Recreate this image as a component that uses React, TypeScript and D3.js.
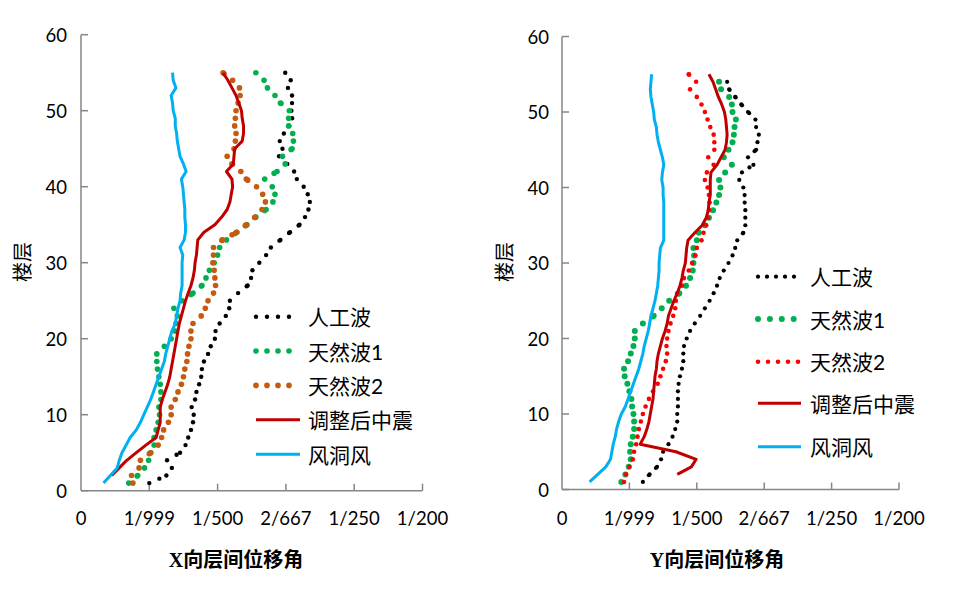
import React from 'react';
import * as d3 from 'd3';

// ---------- data ----------
const floors = [
  1, 2, 3, 4, 5, 6, 7, 8, 9, 10, 11, 12, 13, 14, 15, 16, 17, 18, 19, 20,
  21, 22, 23, 24, 25, 26, 27, 28, 29, 30, 31, 32, 33, 34, 35, 36, 37, 38, 39, 40,
  41, 42, 43, 44, 45, 46, 47, 48, 49, 50, 51, 52, 53, 54, 55,
];
const xTickValues = [0, 1, 2, 3, 4, 5];
const xTickLabels = ['0', '1/999', '1/500', '2/667', '1/250', '1/200'];
const yTickValues = [0, 10, 20, 30, 40, 50, 60];
const seriesNames = ['人工波', '天然波1', '天然波2', '调整后中震', '风洞风'];
const xTitle = 'X向层间位移角';
const yTitle = 'Y向层间位移角';
const floorLabel = '楼层';

// X direction (values in 1/1000)
const xArtificial = [
  1.00, 1.25, 1.33, 1.26, 1.45, 1.53, 1.57, 1.61, 1.64, 1.65,
  1.62, 1.67, 1.69, 1.73, 1.76, 1.77, 1.80, 1.86, 1.90, 1.96,
  1.97, 2.03, 2.12, 2.17, 2.18, 2.30, 2.44, 2.49, 2.51, 2.61,
  2.71, 2.78, 2.92, 3.06, 3.20, 3.28, 3.33, 3.35, 3.32, 3.26,
  3.16, 3.12, 3.02, 2.90, 2.95, 2.91, 2.97, 3.05, 3.09, 3.08,
  3.09, 3.09, 3.03, 3.07, 2.99,
];
const xNatural1 = [
  0.70, 0.83, 0.93, 0.99, 1.02, 1.07, 1.07, 1.10, 1.13, 1.15,
  1.14, 1.17, 1.17, 1.16, 1.14, 1.12, 1.11, 1.11, 1.22, 1.32,
  1.38, 1.39, 1.41, 1.36, 1.48, 1.64, 1.77, 1.83, 1.88, 1.95,
  2.00, 2.03, 2.13, 2.28, 2.43, 2.56, 2.71, 2.81, 2.84, 2.80,
  2.69, 2.87, 2.99, 2.95, 3.09, 3.11, 3.10, 3.04, 3.04, 3.05,
  2.92, 2.84, 2.73, 2.68, 2.56,
];
const xNatural2 = [
  0.76, 0.74, 0.85, 0.87, 1.02, 1.13, 1.18, 1.21, 1.28, 1.32,
  1.32, 1.38, 1.42, 1.47, 1.50, 1.52, 1.55, 1.56, 1.58, 1.61,
  1.61, 1.64, 1.76, 1.82, 1.86, 1.94, 1.97, 1.96, 1.95, 1.93,
  1.94, 1.94, 2.07, 2.28, 2.42, 2.55, 2.65, 2.70, 2.66, 2.57,
  2.42, 2.34, 2.21, 2.14, 2.24, 2.26, 2.27, 2.25, 2.26, 2.27,
  2.30, 2.33, 2.32, 2.22, 2.08,
];
const xAdjusted = [
  null, 0.45, 0.56, 0.67, 0.81, 0.95, 1.10, 1.13, 1.16, 1.16,
  1.16, 1.19, 1.23, 1.27, 1.30, 1.32, 1.34, 1.36, 1.38, 1.40,
  1.42, 1.44, 1.47, 1.50, 1.53, 1.57, 1.61, 1.64, 1.66, 1.67,
  1.69, 1.70, 1.71, 1.80, 1.96, 2.06, 2.14, 2.18, 2.20, 2.22,
  2.21, 2.13, 2.23, 2.24, 2.25, 2.36, 2.38, 2.38, 2.36, 2.35,
  2.31, 2.27, 2.21, 2.15, 2.08,
];
const xWind = [
  0.33, 0.43, 0.53, 0.56, 0.60, 0.66, 0.72, 0.81, 0.87, 0.92,
  0.97, 1.02, 1.06, 1.10, 1.14, 1.18, 1.22, 1.24, 1.27, 1.30,
  1.33, 1.38, 1.40, 1.42, 1.45, 1.46, 1.48, 1.48, 1.48, 1.48,
  1.49, 1.45, 1.51, 1.53, 1.53, 1.52, 1.52, 1.51, 1.50, 1.49,
  1.47, 1.54, 1.50, 1.45, 1.43, 1.41, 1.40, 1.38, 1.38, 1.35,
  1.34, 1.32, 1.39, 1.35, 1.34,
];

// Y direction
const yArtificial = [
  1.20, 1.30, 1.41, 1.47, 1.50, 1.58, 1.64, 1.68, 1.71, 1.71,
  1.72, 1.72, 1.72, 1.73, 1.75, 1.78, 1.80, 1.80, 1.81, 1.85,
  1.90, 1.97, 2.05, 2.12, 2.19, 2.25, 2.30, 2.34, 2.40, 2.47,
  2.53, 2.57, 2.60, 2.69, 2.72, 2.72, 2.72, 2.71, 2.71, 2.69,
  2.63, 2.67, 2.84, 2.76, 2.88, 2.90, 2.92, 2.88, 2.87, 2.76,
  2.66, 2.57, 2.48, 2.45, null,
];
const yNatural1 = [
  0.88, 0.94, 0.99, 1.02, 1.01, 1.02, 1.05, 1.07, 1.07, 1.06,
  1.04, 1.03, 1.00, 0.97, 0.93, 0.92, 0.98, 1.02, 1.06, 1.08,
  1.08, 1.20, 1.36, 1.48, 1.59, 1.74, 1.84, 1.90, 1.94, 1.95,
  1.96, 1.95, 2.00, 2.03, 2.12, 2.18, 2.24, 2.29, 2.33, 2.35,
  2.33, 2.42, 2.52, 2.40, 2.47, 2.53, 2.55, 2.56, 2.58, 2.53,
  2.52, 2.48, 2.36, 2.33, null,
];
const yNatural2 = [
  0.92, 0.95, 1.00, 1.05, 1.07, 1.10, 1.12, 1.14, 1.17, 1.20,
  1.24, 1.29, 1.35, 1.42, 1.46, 1.50, 1.54, 1.56, 1.55, 1.56,
  1.58, 1.61, 1.65, 1.68, 1.69, 1.71, 1.78, 1.81, 1.88, 1.93,
  1.98, 2.00, 2.07, 2.10, 2.14, 2.17, 2.18, 2.19, 2.18, 2.16,
  2.12, 2.15, 2.25, 2.17, 2.26, 2.26, 2.25, 2.20, 2.16, 2.12,
  2.07, 2.00, 1.90, 1.99, 1.88,
];
const yAdjusted = [
  null, 1.71, 1.92, 1.99, 1.69, 1.16, 1.22, 1.26, 1.29, 1.31,
  1.33, 1.35, 1.36, 1.37, 1.38, 1.40, 1.41, 1.43, 1.46, 1.49,
  1.53, 1.56, 1.58, 1.62, 1.66, 1.71, 1.75, 1.78, 1.80, 1.83,
  1.84, 1.85, 1.87, 1.97, 2.08, 2.14, 2.17, 2.18, 2.20, 2.20,
  2.20, 2.21, 2.30, 2.36, 2.42, 2.44, 2.45, 2.44, 2.43, 2.41,
  2.37, 2.32, 2.28, 2.24, 2.18,
];
const yWind = [
  0.41, 0.53, 0.65, 0.72, 0.74, 0.76, 0.79, 0.81, 0.84, 0.88,
  0.94, 0.98, 1.02, 1.06, 1.10, 1.14, 1.17, 1.20, 1.22, 1.25,
  1.28, 1.30, 1.32, 1.35, 1.38, 1.40, 1.42, 1.43, 1.44, 1.44,
  1.45, 1.46, 1.51, 1.51, 1.51, 1.51, 1.51, 1.51, 1.50, 1.50,
  1.48, 1.49, 1.51, 1.49, 1.46, 1.43, 1.41, 1.40, 1.37, 1.36,
  1.34, 1.32, 1.31, 1.32, 1.33,
];

// ---------- styles ----------
type Style = { color: string; kind: 'dot' | 'line'; r?: number; period?: number; width?: number };

const leftStyles: Style[] = [
  { color: '#000000', kind: 'dot', r: 2.2, period: 11 },
  { color: '#00B050', kind: 'dot', r: 2.8, period: 11 },
  { color: '#C55A11', kind: 'dot', r: 2.8, period: 11 },
  { color: '#C00000', kind: 'line', width: 3 },
  { color: '#00B0F0', kind: 'line', width: 3 },
];
const rightStyles: Style[] = [
  { color: '#000000', kind: 'dot', r: 2.1, period: 9 },
  { color: '#00B050', kind: 'dot', r: 3.0, period: 11.9 },
  { color: '#FF0000', kind: 'dot', r: 2.3, period: 10 },
  { color: '#C00000', kind: 'line', width: 3 },
  { color: '#00B0F0', kind: 'line', width: 3 },
];

const NUM_FONT = "Lato, 'Noto Sans CJK SC', sans-serif";
const CJK_FONT = "Lato, 'Noto Sans CJK SC', sans-serif";
const TITLE_FONT = "'Liberation Serif', 'Noto Sans CJK SC', serif";

function dotsAlong(pts: [number, number][], period: number): [number, number][] {
  const out: [number, number][] = [];
  for (let i = 0; i < pts.length - 1; i++) {
    const [x0, y0] = pts[i];
    const [x1, y1] = pts[i + 1];
    const L = Math.hypot(x1 - x0, y1 - y0);
    for (let t = 0; t < L - 0.5; t += period) {
      out.push([x0 + ((x1 - x0) * t) / L, y0 + ((y1 - y0) * t) / L]);
    }
  }
  if (pts.length) out.push(pts[pts.length - 1]);
  return out;
}

type PanelProps = {
  x0: number; x1: number; yBottom: number; yTop: number;
  data: (number | null)[][];
  styles: Style[];
  title: string; titleX: number;
  yLabelX: number; tickLabelRight: number;
  legX0: number; legX1: number; legTextX: number; legYs: number[];
};

function Panel(p: PanelProps) {
  const x = d3.scaleLinear().domain([0, 5]).range([p.x0, p.x1]);
  const y = d3.scaleLinear().domain([0, 60]).range([p.yBottom, p.yTop]);
  const axisColor = '#868686';
  const line = d3
    .line<[number, number]>()
    .x((d) => d[0])
    .y((d) => d[1]);

  return (
    <g>
      {/* axes */}
      <line x1={p.x0} x2={p.x0} y1={y(0)} y2={y(60)} stroke={axisColor} strokeWidth={1.5} />
      <line x1={p.x0} x2={p.x1} y1={y(0)} y2={y(0)} stroke={axisColor} strokeWidth={1.5} />
      {yTickValues.map((t) => (
        <g key={'yt' + t}>
          <line x1={p.x0} x2={p.x0 + 7} y1={y(t)} y2={y(t)} stroke={axisColor} strokeWidth={1.5} />
          <text x={p.tickLabelRight} y={y(t)} textAnchor="end" dominantBaseline="central"
            fontFamily={NUM_FONT} fontSize={18.5} fill="#000">{t}</text>
        </g>
      ))}
      {xTickValues.map((t, i) => (
        <g key={'xt' + t}>
          {i > 0 && (
            <line x1={x(t)} x2={x(t)} y1={y(0)} y2={y(0) - 7} stroke={axisColor} strokeWidth={1.5} />
          )}
          <text x={x(t)} y={518} textAnchor="middle" dominantBaseline="central"
            fontFamily={NUM_FONT} fontSize={18.5} fill="#000">{xTickLabels[i]}</text>
        </g>
      ))}

      {/* series */}
      {p.data.map((vals, si) => {
        const st = p.styles[si];
        const pts: [number, number][] = [];
        vals.forEach((v, i) => {
          if (v !== null) pts.push([x(v), y(floors[i])]);
        });
        if (st.kind === 'line') {
          return (
            <path key={'s' + si} d={line(pts) || ''} fill="none" stroke={st.color}
              strokeWidth={st.width} strokeLinejoin="round" strokeLinecap="butt" />
          );
        }
        const dots = dotsAlong(pts, st.period!);
        return (
          <g key={'s' + si}>
            {dots.map((d, k) => (
              <circle key={k} cx={d[0]} cy={d[1]} r={st.r} fill={st.color} />
            ))}
          </g>
        );
      })}

      {/* legend */}
      {seriesNames.map((name, si) => {
        const st = p.styles[si];
        const ly = p.legYs[si];
        let sample;
        if (st.kind === 'line') {
          sample = <line x1={p.legX0} x2={p.legX1} y1={ly} y2={ly} stroke={st.color} strokeWidth={st.width} />;
        } else {
          const len = p.legX1 - p.legX0;
          const ds: number[] = [];
          for (let t = 0; t <= len - 3; t += st.period!) ds.push(p.legX0 + t);
          sample = (
            <g>
              {ds.map((dx, k) => (
                <circle key={k} cx={dx} cy={ly} r={st.r} fill={st.color} />
              ))}
            </g>
          );
        }
        return (
          <g key={'lg' + si}>
            {sample}
            <text x={p.legTextX} y={ly} dominantBaseline="central" fontFamily={CJK_FONT}
              fontSize={21} fill="#000">{name}</text>
          </g>
        );
      })}

      {/* titles */}
      <text x={p.titleX} y={560} textAnchor="middle" dominantBaseline="central"
        fontFamily={TITLE_FONT} fontWeight="bold" fontSize={20} fill="#000">{p.title}</text>
      <text transform={`translate(${p.yLabelX},262) rotate(-90)`} textAnchor="middle"
        dominantBaseline="central" fontFamily={CJK_FONT} fontSize={20} fill="#000">{floorLabel}</text>
    </g>
  );
}

export default function App() {
  return (
    <svg width={966} height={589} style={{ position: 'absolute', left: 0, top: 0, background: '#fff' }}>
      <rect x={0} y={0} width={966} height={589} fill="#fff" />
      <Panel
        x0={81} x1={422.5} yBottom={490.7} yTop={34.7}
        data={[xArtificial, xNatural1, xNatural2, xAdjusted, xWind]}
        styles={leftStyles}
        title={xTitle} titleX={236}
        yLabelX={22} tickLabelRight={67}
        legX0={256} legX1={300} legTextX={308}
        legYs={[316.7, 351, 385.4, 419.8, 454.2]}
      />
      <Panel
        x0={562} x1={899} yBottom={489.5} yTop={36.5}
        data={[yArtificial, yNatural1, yNatural2, yAdjusted, yWind]}
        styles={rightStyles}
        title={yTitle} titleX={717}
        yLabelX={504} tickLabelRight={549}
        legX0={758} legX1={801} legTextX={810}
        legYs={[276.7, 319, 361.7, 403.3, 446.7]}
      />
    </svg>
  );
}
